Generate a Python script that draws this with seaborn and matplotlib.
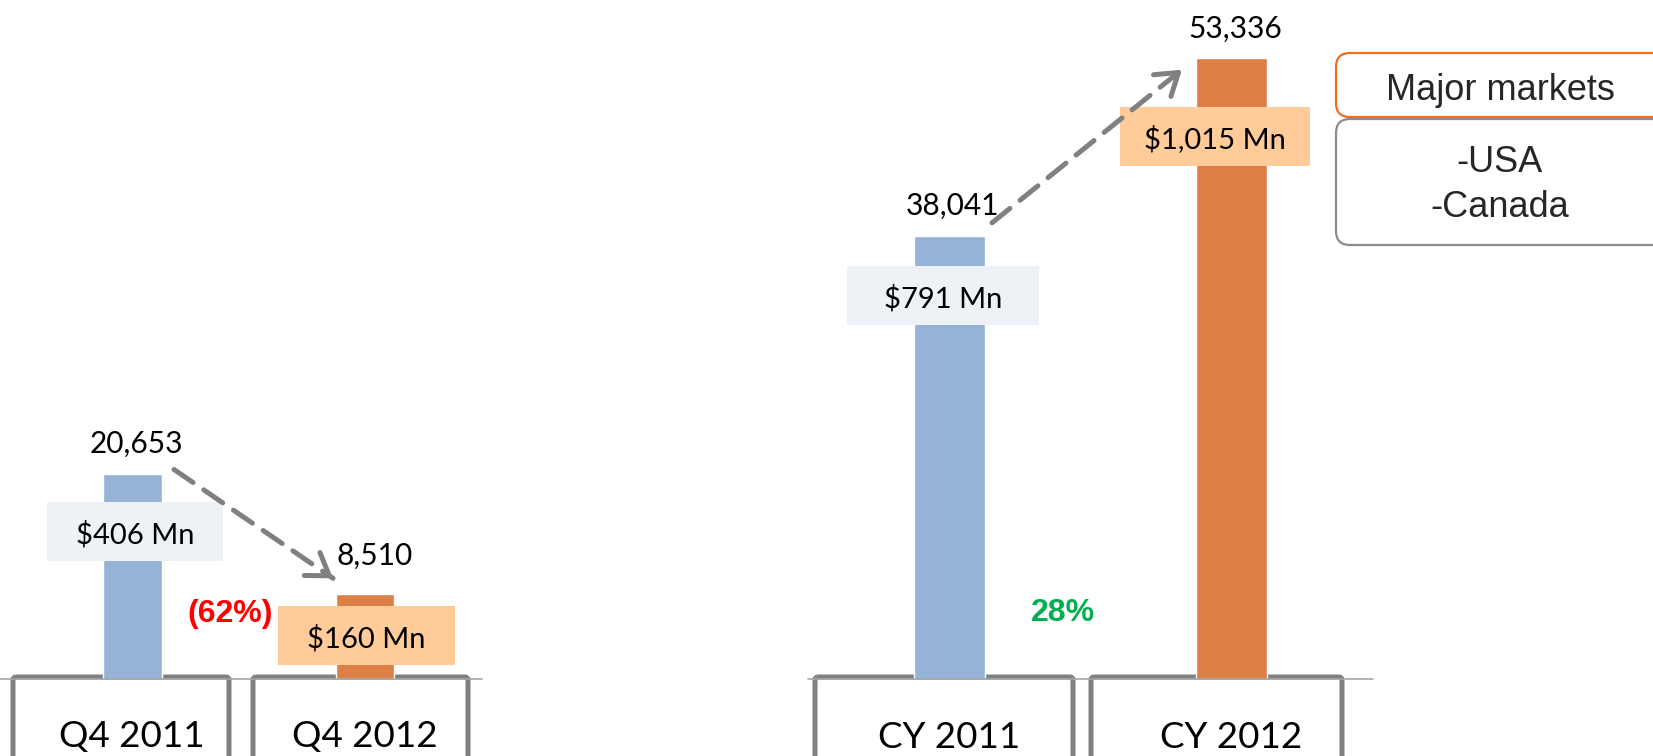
import matplotlib.pyplot as plt
import seaborn as sns
from matplotlib.patches import FancyBboxPatch, Rectangle

# data
quarter_labels = ["Q4 2011", "Q4 2012"]
quarter_units = [20653, 8510]
quarter_revenue = ["$406 Mn", "$160 Mn"]
quarter_change = "(62%)"

year_labels = ["CY 2011", "CY 2012"]
year_units = [38041, 53336]
year_revenue = ["$791 Mn", "$1,015 Mn"]
year_change = "28%"

market_title = "Major markets"
market_list = ["-USA", "-Canada"]

# layout / style
W, H = 1653, 756
BASE = 679  # baseline, pixels from top
BAR_COLORS = ["#95B3D7", "#DD8047"]
BOX_COLORS = ["#EEF1F6", "#FFCC99"]
GREY = "#808080"
CALIBRI = ["Lato", "DejaVu Sans"]
ARIAL = ["Liberation Sans", "DejaVu Sans"]

sns.set_theme(style="white")
plt.rcParams["font.family"] = CALIBRI

fig = plt.figure(figsize=(W / 100, H / 100), dpi=100)
fig.patch.set_facecolor("white")

# overlay axes in pixel coordinates (y goes down), for boxes and free text
ov = fig.add_axes([0, 0, 1, 1])
ov.set_xlim(0, W)
ov.set_ylim(H, 0)
ov.axis("off")


def px_axes(x0, x1):
    return fig.add_axes([x0 / W, 1 - BASE / H, (x1 - x0) / W, BASE / H])


def shift(ax, x, y, dx, dy):
    # move a data point by some pixels (dy > 0 is up)
    px, py = ax.transData.transform((x, y))
    return ax.transData.inverted().transform((px + dx, py + dy))


def draw_arrow(ax, start, end):
    ax.annotate("", xy=end, xytext=start,
                arrowprops=dict(arrowstyle="-", color=GREY, lw=3.6,
                                ls=(0, (4.6, 2.6)), shrinkA=0, shrinkB=0))
    sx, sy = ax.transData.transform(start)
    ex, ey = ax.transData.transform(end)
    back = ax.transData.inverted().transform((ex - (ex - sx) * 0.05, ey - (ey - sy) * 0.05))
    ax.annotate("", xy=end, xytext=back,
                arrowprops=dict(arrowstyle="->,head_length=0.75,head_width=0.5",
                                mutation_scale=20, color=GREY, lw=3.6,
                                shrinkA=0, shrinkB=0))


def panel(ax, labels, units, revenue, xlim, ymax, val_off, box_off, box_w, cat_dx, arrow_off):
    sns.barplot(x=labels, y=units, hue=labels, palette=BAR_COLORS, width=0.25,
                saturation=1, legend=False, ax=ax)
    ax.set_xlim(*xlim)
    ax.set_ylim(0, ymax)
    ax.axis("off")
    ax.axhline(0, color="#A6A6A6", lw=1.2, clip_on=False, zorder=1)

    for i, v in enumerate(units):
        ax.annotate(f"{v:,}", (i, v), xytext=val_off[i], textcoords="offset pixels",
                    ha="center", va="baseline", fontsize=21.5, color="black")
        bdx, bdy = box_off[i]
        x0, y0 = shift(ax, i, v, bdx - box_w[i] / 2, bdy - 29.5)
        x1, y1 = shift(ax, i, v, bdx + box_w[i] / 2, bdy + 29.5)
        ax.add_patch(Rectangle((x0, y0), x1 - x0, y1 - y0, fc=BOX_COLORS[i],
                               ec="none", zorder=3))
        ax.annotate(revenue[i], (i, v), xytext=(bdx, bdy - 12), textcoords="offset pixels",
                    ha="center", va="baseline", fontsize=21, color="black", zorder=4)
        ax.annotate(labels[i], (i, 0), xytext=(cat_dx[i], -68.5), textcoords="offset pixels",
                    ha="center", va="baseline", fontsize=26.5, color="black",
                    annotation_clip=False)

    start = shift(ax, 0, units[0], *arrow_off[0])
    end = shift(ax, 1, units[1], *arrow_off[1])
    draw_arrow(ax, start, end)


ax_q = px_axes(0, 482)
panel(ax_q, quarter_labels, quarter_units, quarter_revenue,
      xlim=(-0.570, 1.503), ymax=BASE / 0.00995,
      val_off=[(4, 21), (9.5, 30)],
      box_off=[(2.5, -57.5), (1.5, -41.5)],
      box_w=[176, 177],
      cat_dx=[-1, 0],
      arrow_off=[(41.5, 4), (-32, 16)])

ax_y = px_axes(808, 1373)
panel(ax_y, year_labels, year_units, year_revenue,
      xlim=(-0.502, 1.502), ymax=BASE / 0.01165,
      val_off=[(2.5, 21), (3.5, 20)],
      box_off=[(-6.5, -59.5), (-16.5, -78.5)],
      box_w=[192, 190],
      cat_dx=[-0.5, -0.5],
      arrow_off=[(42.5, 13), (-49.5, -12)])

# category frames under the baseline
for x0, x1 in [(13, 229), (253, 468), (815, 1073), (1091, 1342)]:
    ov.add_patch(FancyBboxPatch((x0, 677), x1 - x0, 120,
                                boxstyle="round,pad=0,rounding_size=3",
                                fc="none", ec=GREY, lw=3.6, zorder=0))

# change percentages
ov.text(230.5, 622, quarter_change, ha="center", va="baseline", fontsize=23,
        fontweight="bold", color="#FF0000", family=ARIAL)
ov.text(1063, 621, year_change, ha="center", va="baseline", fontsize=23,
        fontweight="bold", color="#00B050", family=ARIAL)

# market boxes
ov.add_patch(FancyBboxPatch((1336, 53), 400, 64, boxstyle="round,pad=0,rounding_size=14",
                            fc="white", ec="#F36C1F", lw=1.6))
ov.add_patch(FancyBboxPatch((1336, 119), 400, 126, boxstyle="round,pad=0,rounding_size=14",
                            fc="white", ec="#8C8C8C", lw=1.6))
ov.text(1500, 100, market_title, ha="center", va="baseline", fontsize=26, family=ARIAL)
for y, name in zip([172, 217], market_list):
    ov.text(1500, y, name, ha="center", va="baseline", fontsize=26, family=ARIAL)

fig.savefig("out.png", dpi=100, facecolor="white")
